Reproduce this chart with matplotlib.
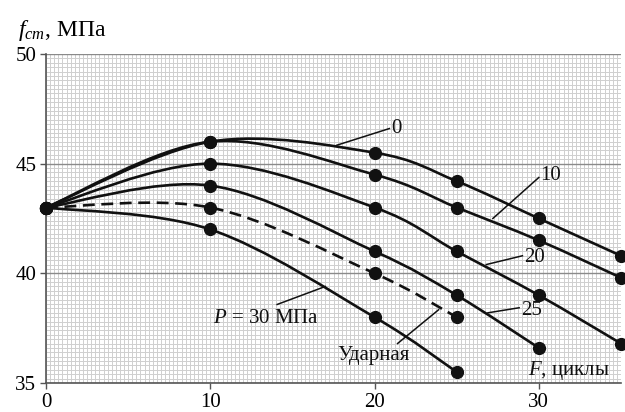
import numpy as np
import matplotlib
matplotlib.use('Agg')
from matplotlib import pyplot as plt
from matplotlib.path import Path
from matplotlib.patches import PathPatch
from matplotlib.ticker import MultipleLocator

plt.rcParams['font.family'] = ['Liberation Serif', 'DejaVu Serif']
plt.rcParams['mathtext.fontset'] = 'custom'
plt.rcParams['mathtext.it'] = 'Liberation Serif:italic'
plt.rcParams['mathtext.rm'] = 'Liberation Serif'

# данные
x_p0 = [0, 10, 20, 25, 30, 35]
y_p0 = [43, 46, 45.5, 44.2, 42.5, 40.8]
x_p10 = [0, 10, 20, 25, 30, 35]
y_p10 = [43, 46, 44.5, 43, 41.5, 39.8]
x_p20 = [0, 10, 20, 25, 30, 35]
y_p20 = [43, 45, 43, 41, 39, 36.8]
x_p25 = [0, 10, 20, 25, 30]
y_p25 = [43, 44, 41, 39, 36.6]
x_p30 = [0, 10, 20, 25]
y_p30 = [43, 42, 38, 35.5]
x_udar = [0, 10, 20, 25]
y_udar = [43, 43, 40, 38]

x_ticks = [0, 10, 20, 30]
y_ticks = [35, 40, 45, 50]


def smooth_path(xs, ys):
    # сглаженная линия как в Excel (Безье)
    p = np.column_stack([xs, ys]).astype(float)
    n = len(p)
    verts = [p[0]]
    codes = [Path.MOVETO]
    for i in range(n - 1):
        a = p[i - 1] if i > 0 else p[i]
        d = p[i + 2] if i + 2 < n else p[i + 1]
        c1 = p[i] + (p[i + 1] - a) / 6
        c2 = p[i + 1] - (d - p[i]) / 6
        verts += [c1, c2, p[i + 1]]
        codes += [Path.CURVE4] * 3
    return Path(verts, codes)


fig = plt.figure(figsize=(6.25, 4.12), dpi=100)
ax = fig.add_axes([0.0736, 0.0704, 0.9200, 0.7986])

series = [(x_p0, y_p0, '-'), (x_p10, y_p10, '-'), (x_p20, y_p20, '-'),
          (x_p25, y_p25, '-'), (x_p30, y_p30, '-'), (x_udar, y_udar, '--')]
for xs, ys, ls in series:
    patch = PathPatch(smooth_path(xs, ys), facecolor='none', edgecolor='#111111',
                      lw=1.9, linestyle=ls if ls == '-' else (0, (4.5, 2.5)),
                      zorder=3, clip_on=False)
    ax.add_patch(patch)
    ax.plot(xs, ys, 'o', color='#111111', ms=8.5, zorder=4, clip_on=False)

ax.set_xlim(0, 35)
ax.set_ylim(35, 50)
ax.set_xticks(x_ticks)
ax.set_yticks(y_ticks)
ax.xaxis.set_minor_locator(MultipleLocator(0.25))
ax.yaxis.set_minor_locator(MultipleLocator(0.2))
ax.grid(which='minor', color='#cfcfcf', lw=0.7)
ax.grid(which='major', axis='y', color='#8a8a8a', lw=1.0)
ax.grid(which='major', axis='x', color='#cfcfcf', lw=0.7)
ax.tick_params(which='minor', length=0)
ax.tick_params(which='major', length=4, width=1, color='#555555',
               labelsize=15, pad=3)
for s in ['top', 'right']:
    ax.spines[s].set_visible(False)
for s in ['left', 'bottom']:
    ax.spines[s].set_color('#555555')
    ax.spines[s].set_linewidth(1.2)
ax.set_axisbelow(True)

# подписи кривых
lab = dict(fontsize=15, color='#111111')
line = dict(color='#111111', lw=1.1)
ax.plot([17.7, 20.9], [45.84, 46.6], **line)
ax.text(21.0, 46.6, '0', va='center', ha='left', **lab)
ax.plot([27.2, 30.0], [42.5, 44.37], **line)
ax.text(30.1, 44.47, '10', va='center', ha='left', **lab)
ax.plot([26.8, 29.0], [40.4, 40.8], **line)
ax.text(29.1, 40.7, '20', va='center', ha='left', **lab)
ax.plot([26.9, 28.8], [38.2, 38.43], **line)
ax.text(28.9, 38.3, '25', va='center', ha='left', **lab)
ax.plot([21.4, 23.9], [36.8, 38.34], **line)
ax.text(19.96, 36.26, 'Ударная', va='center', ha='center', **lab)
ax.plot([14.07, 17.0], [38.58, 39.4], **line)
ax.text(13.4, 37.95, r'$P$ = 30 МПа', va='center', ha='center', **lab)
ax.text(34.3, 35.55, r'$F$, циклы', va='center', ha='right', **lab)

fig.text(0.029, 0.927, r'$f_{cm}$, МПа', fontsize=17, va='center', ha='left')

fig.savefig('out.png', dpi=100)
